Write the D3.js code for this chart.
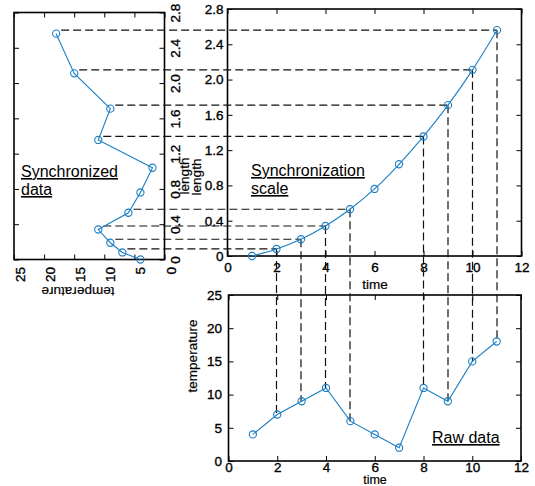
<!DOCTYPE html>
<html>
<head>
<meta charset="utf-8">
<script src="https://cdn.jsdelivr.net/npm/d3@7"></script>
<style>
  body { margin: 0; background: #fff; }
  svg { display: block; font-family: "Liberation Sans", Arial, sans-serif; }
  .domain { display: none; }
  .tick line { stroke: #000; stroke-width: 1; }
  .tick text { font-size: 13.5px; fill: #000; stroke: #000; stroke-width: 0.35px; }
  .lbl { font-size: 13.5px; fill: #000; stroke: #000; stroke-width: 0.2px; }
  .note { font-size: 16px; fill: #000; text-decoration: underline; }
</style>
</head>
<body>
<div id="chart"></div>
<script>
// data
const time = [1, 2, 3, 4, 5, 6, 7, 8, 9, 10, 11];
const temperature = [4, 7, 9, 11, 6, 4, 2, 11, 9, 15, 18];
const length = [0, 0.08, 0.19, 0.34, 0.53, 0.76, 1.04, 1.355, 1.71, 2.11, 2.56];
const guideTimes = [2, 3, 4, 5, 8, 9, 10, 11];

const timeTicks = [0, 2, 4, 6, 8, 10, 12];
const lengthTicks = [0, 0.4, 0.8, 1.2, 1.6, 2.0, 2.4, 2.8];
const tempTicks = [0, 5, 10, 15, 20, 25];

const blue = '#1a7fc4';
const lenFmt = (d) => d === 0 ? '0' : d.toFixed(1);

const svg = d3.select('#chart')
  .append('svg')
  .attr('width', 535)
  .attr('height', 486);

// scales for the three panels
const leftX = d3.scaleLinear().domain([0, 25]).range([164.5, 14]);
const leftY = d3.scaleLinear().domain([0, 2.8]).range([259.5, 12.5]);
const topX = d3.scaleLinear().domain([0, 12]).range([227.5, 521.5]);
const topY = d3.scaleLinear().domain([0, 2.8]).range([256, 9]);
const botX = d3.scaleLinear().domain([0, 12]).range([228.5, 521]);
const botY = d3.scaleLinear().domain([0, 25]).range([461, 295]);

function box(xs, ys) {
  const [x0, x1] = xs.range();
  const [y0, y1] = ys.range();
  svg.append('rect')
    .attr('x', Math.min(x0, x1))
    .attr('y', Math.min(y0, y1))
    .attr('width', Math.abs(x1 - x0))
    .attr('height', Math.abs(y1 - y0))
    .attr('fill', 'none')
    .attr('stroke', '#000')
    .attr('stroke-width', 1.6);
}

// ---- left panel: temperature (horizontal, reversed) vs length (vertical)
svg.append('g')
  .attr('transform', 'translate(164.5,0)')
  .call(d3.axisRight(leftY).tickValues(lengthTicks).tickFormat(lenFmt).tickSize(-5).tickSizeOuter(0))
  .selectAll('text')
  .attr('x', 0).attr('dy', null)
  .attr('transform', 'translate(10.5,0) rotate(-90)')
  .attr('text-anchor', 'middle')
  .attr('dominant-baseline', 'central');
svg.append('g')
  .attr('transform', 'translate(14,0)')
  .call(d3.axisLeft(leftY).tickValues(lengthTicks).tickFormat('').tickSize(-5).tickSizeOuter(0));
svg.append('g')
  .attr('transform', 'translate(0,259.5)')
  .call(d3.axisBottom(leftX).tickValues(tempTicks).tickSize(-5).tickSizeOuter(0))
  .selectAll('text')
  .attr('y', 0).attr('dy', null)
  .attr('transform', 'translate(6,7.5) rotate(-90)')
  .attr('text-anchor', 'end')
  .attr('dominant-baseline', 'central');
svg.append('g')
  .attr('transform', 'translate(0,12.5)')
  .call(d3.axisTop(leftX).tickValues(tempTicks).tickFormat('').tickSize(-5).tickSizeOuter(0));
box(leftX, leftY);

svg.append('text')
  .attr('class', 'lbl')
  .attr('transform', 'translate(78,291) rotate(180)')
  .attr('text-anchor', 'middle')
  .attr('dominant-baseline', 'central')
  .text('temperature');
svg.append('text')
  .attr('class', 'lbl')
  .attr('transform', 'translate(184,176) rotate(-90)')
  .attr('text-anchor', 'middle')
  .attr('dominant-baseline', 'central')
  .text('length');

// ---- top right panel: synchronization scale
svg.append('g')
  .attr('transform', 'translate(0,256)')
  .call(d3.axisBottom(topX).tickValues(timeTicks).tickSize(-5).tickSizeOuter(0).tickPadding(6));
svg.append('g')
  .attr('transform', 'translate(0,9)')
  .call(d3.axisTop(topX).tickValues(timeTicks).tickFormat('').tickSize(-5).tickSizeOuter(0));
svg.append('g')
  .attr('transform', 'translate(227.5,0)')
  .call(d3.axisLeft(topY).tickValues(lengthTicks).tickFormat(lenFmt).tickSize(-5).tickSizeOuter(0).tickPadding(4));
svg.append('g')
  .attr('transform', 'translate(521.5,0)')
  .call(d3.axisRight(topY).tickValues(lengthTicks).tickFormat('').tickSize(-5).tickSizeOuter(0));
box(topX, topY);

svg.append('text')
  .attr('class', 'lbl')
  .attr('x', 375).attr('y', 284)
  .attr('text-anchor', 'middle')
  .attr('dominant-baseline', 'central')
  .text('time');
svg.append('text')
  .attr('class', 'lbl')
  .attr('transform', 'translate(196,177) rotate(-90)')
  .attr('text-anchor', 'middle')
  .attr('dominant-baseline', 'central')
  .text('length');

// ---- bottom panel: raw data
svg.append('g')
  .attr('transform', 'translate(0,461)')
  .call(d3.axisBottom(botX).tickValues(timeTicks).tickSize(-5).tickSizeOuter(0).tickPadding(1));
svg.append('g')
  .attr('transform', 'translate(0,295)')
  .call(d3.axisTop(botX).tickValues(timeTicks).tickFormat('').tickSize(-5).tickSizeOuter(0));
svg.append('g')
  .attr('transform', 'translate(228.5,0)')
  .call(d3.axisLeft(botY).tickValues(tempTicks).tickSize(-5).tickSizeOuter(0).tickPadding(6.5));
svg.append('g')
  .attr('transform', 'translate(521,0)')
  .call(d3.axisRight(botY).tickValues(tempTicks).tickFormat('').tickSize(-5).tickSizeOuter(0));
box(botX, botY);

svg.append('text')
  .attr('class', 'lbl')
  .attr('x', 375).attr('y', 483.5)
  .attr('text-anchor', 'middle')
  .style('font-size', '12.5px')
  .text('time');
svg.append('text')
  .attr('class', 'lbl')
  .attr('transform', 'translate(192,356) rotate(-90)')
  .attr('text-anchor', 'middle')
  .attr('dominant-baseline', 'central')
  .text('temperature');

// ---- dashed guide lines
const guides = guideTimes.map((t) => time.indexOf(t));
svg.selectAll('.hguide')
  .data(guides)
  .enter()
  .append('line')
  .attr('class', 'hguide')
  .attr('x1', (i) => leftX(temperature[i]) + 5)
  .attr('x2', (i) => topX(time[i]))
  .attr('y1', (i) => topY(length[i]))
  .attr('y2', (i) => topY(length[i]))
  .attr('stroke', '#111')
  .attr('stroke-width', 1.2)
  .attr('stroke-dasharray', '8,4');
svg.selectAll('.vguide')
  .data(guides)
  .enter()
  .append('line')
  .attr('class', 'vguide')
  .attr('x1', (i) => topX(time[i]))
  .attr('x2', (i) => topX(time[i]))
  .attr('y1', (i) => topY(length[i]))
  .attr('y2', (i) => botY(temperature[i]))
  .attr('stroke', '#111')
  .attr('stroke-width', 1.2)
  .attr('stroke-dasharray', '8,4');

// ---- data series
function series(xf, yf, curve) {
  const idx = d3.range(time.length);
  svg.append('path')
    .datum(idx)
    .attr('fill', 'none')
    .attr('stroke', blue)
    .attr('stroke-width', 1.1)
    .attr('d', d3.line().x(xf).y(yf).curve(curve || d3.curveLinear));
  svg.append('g')
    .selectAll('circle')
    .data(idx)
    .enter()
    .append('circle')
    .attr('cx', xf)
    .attr('cy', yf)
    .attr('r', 3.6)
    .attr('fill', 'none')
    .attr('stroke', blue)
    .attr('stroke-width', 1.1);
}
series((i) => leftX(temperature[i]), (i) => leftY(length[i]));
series((i) => topX(time[i]), (i) => topY(length[i]), d3.curveMonotoneX);
series((i) => botX(time[i]), (i) => botY(temperature[i]));

// ---- panel captions
const notes = [
  { lines: ['Synchronized', 'data'], x: 21, y: 177 },
  { lines: ['Synchronization', 'scale'], x: 251, y: 176 },
  { lines: ['Raw data'], x: 432, y: 443 }
];
notes.forEach((n) => {
  n.lines.forEach((s, k) => {
    svg.append('text')
      .attr('class', 'note')
      .attr('x', n.x)
      .attr('y', n.y + k * 18)
      .text(s);
  });
});
</script>
</body>
</html>
